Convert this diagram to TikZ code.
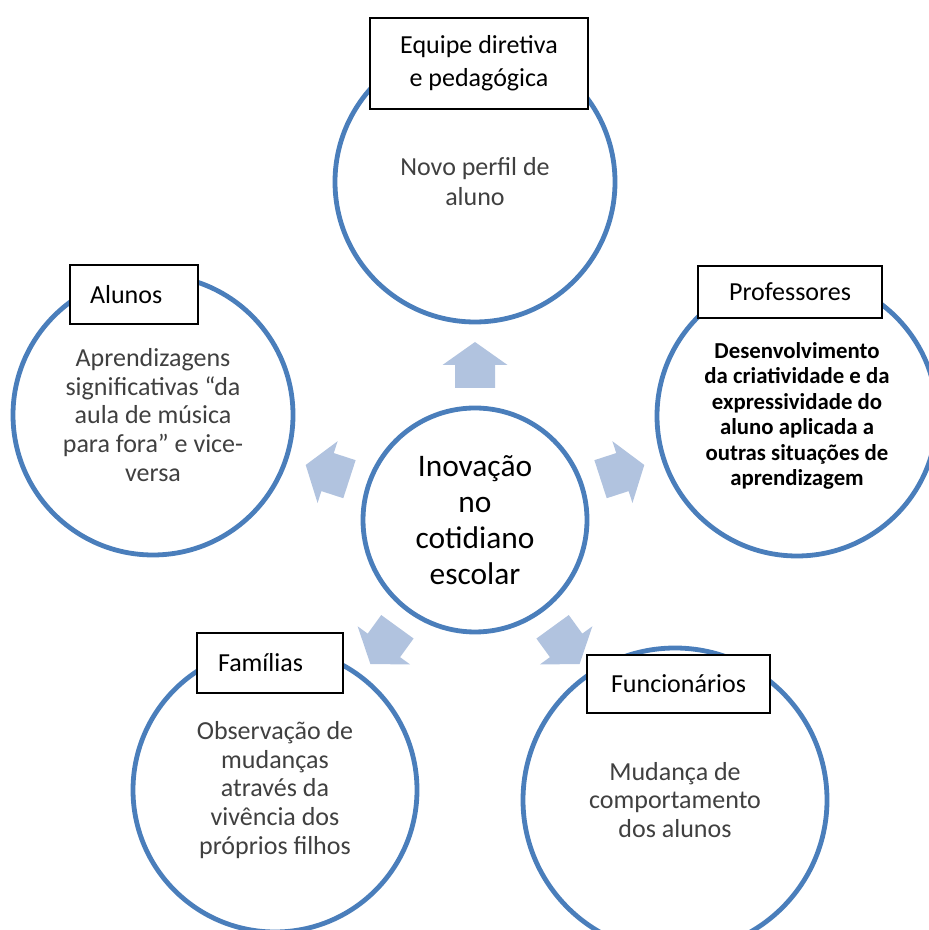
\documentclass[tikz,border=0pt]{standalone}
\usepackage{fontspec}
\setmainfont{Carlito}

\definecolor{ringblue}{HTML}{4A7EBB}
\definecolor{arrowblue}{HTML}{B1C3DF}
\definecolor{textgray}{HTML}{404040}

\tikzset{
  ring/.style={circle, draw=ringblue, line width=2.4pt, fill=white, align=center, inner sep=0pt},
  tag/.style={rectangle, draw=black, line width=0.7pt, fill=white, align=center, inner sep=0pt, font=\fontsize{13}{16.5}\selectfont},
  blockarrow/.style={fill=arrowblue}
}

\begin{document}
\begin{tikzpicture}[x=0.5pt, y=0.5pt]
\useasboundingbox (0,0) rectangle (929,930);

%centre
\node[ring, minimum size=112pt, font=\fontsize{15.7}{18}\selectfont] (centro) at (475,410) {Inovação\\no\\cotidiano\\escolar};

%arrows
\begin{scope}[shift={(centro.center)}]
\foreach \ang in {90,18,-54,-126,162}
  \fill[blockarrow, rotate=\ang] (132,-20) -- (155,-20) -- (155,-32.5) -- (178,0) -- (155,32.5) -- (155,20) -- (132,20) -- cycle;
\end{scope}

%outer circles
\node[ring, minimum size=140pt, text=textgray, font=\fontsize{13}{15}\selectfont] (equipe) at (475,748) {Novo perfil de\\aluno};
\node[ring, minimum size=140pt, text=textgray, font=\fontsize{13}{14.4}\selectfont] (alunos) at (153,515) {Aprendizagens\\significativas “da\\aula de música\\para fora” e vice-\\versa};
\node[ring, minimum size=140pt, font=\fontsize{11.4}{12.7}\selectfont\bfseries] (professores) at (797,514) {Desenvolvimento\\da criatividade e da\\expressividade do\\aluno aplicada a\\outras situações de\\aprendizagem};
\node[ring, minimum size=142pt, text=textgray, font=\fontsize{13}{14.4}\selectfont] (familias) at (275,140) {Observação de\\mudanças\\através da\\vivência dos\\próprios filhos};
\node[ring, minimum size=152pt, text=textgray, font=\fontsize{13}{14.2}\selectfont] (funcionarios) at (675,130) {Mudança de\\comportamento\\dos alunos};

%labels
\node[tag, minimum width=109pt, minimum height=45.5pt] (tagequipe) at (479,866.5) {Equipe diretiva\\e pedagógica};
\node[tag, text width=44pt, align=left, inner xsep=10pt, minimum height=29.5pt] (tagalunos) at (134,635.5) {Alunos};
\node[tag, minimum width=92pt, minimum height=26pt] (tagprofessores) at (790,638) {Professores};
\node[tag, text width=52pt, align=left, inner xsep=10.5pt, minimum height=30pt] (tagfamilias) at (270,267) {Famílias};
\node[tag, minimum width=91.5pt, minimum height=29pt] (tagfuncionarios) at (678.5,246) {Funcionários};
\end{tikzpicture}
\end{document}
